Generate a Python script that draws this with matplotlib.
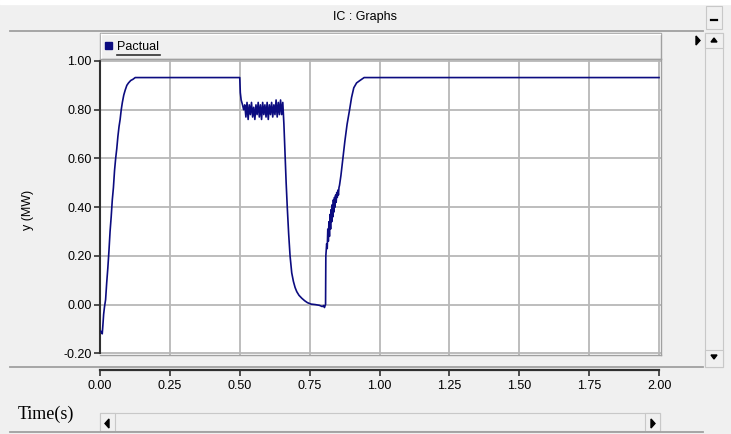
import numpy as np
import matplotlib
matplotlib.use("Agg")
import matplotlib.pyplot as plt
from matplotlib.patches import Rectangle, Polygon

plt.rcParams['font.family'] = ['Liberation Sans', 'DejaVu Sans']

# values (time in s, power in MW)
t_rise = [0.000, 0.004, 0.008, 0.010, 0.013, 0.016, 0.020, 0.024, 0.028, 0.032,
          0.036, 0.040, 0.044, 0.048, 0.052, 0.056, 0.060, 0.064, 0.068, 0.072,
          0.076, 0.080, 0.085, 0.090, 0.096, 0.102, 0.110, 0.118, 0.126, 0.500]
p_rise = [-0.11, -0.11, -0.12, -0.09, -0.04, -0.01, 0.02, 0.09, 0.15, 0.22,
          0.30, 0.36, 0.43, 0.48, 0.55, 0.60, 0.64, 0.69, 0.73, 0.76,
          0.80, 0.83, 0.86, 0.88, 0.90, 0.91, 0.92, 0.925, 0.932, 0.932]

t_osc = [0.502, 0.505, 0.510, 0.514,
         0.518, 0.522, 0.526, 0.530, 0.534, 0.538, 0.542, 0.546, 0.550, 0.554,
         0.558, 0.562, 0.566, 0.570, 0.574, 0.578, 0.582, 0.586, 0.590, 0.594,
         0.598, 0.602, 0.606, 0.610, 0.614, 0.618, 0.622, 0.626, 0.630, 0.634,
         0.638, 0.642, 0.646, 0.650, 0.654]
p_osc = [0.87, 0.84, 0.82, 0.80,
         0.82, 0.77, 0.83, 0.76, 0.82, 0.78, 0.83, 0.77, 0.81, 0.76,
         0.82, 0.78, 0.83, 0.77, 0.82, 0.76, 0.83, 0.78, 0.82, 0.77,
         0.83, 0.76, 0.82, 0.78, 0.83, 0.77, 0.82, 0.78, 0.84, 0.77,
         0.83, 0.78, 0.84, 0.78, 0.83]

t_fall = [0.658, 0.662, 0.666, 0.670, 0.675, 0.680, 0.686, 0.692, 0.698, 0.704,
          0.712, 0.722, 0.732, 0.742, 0.755, 0.770, 0.785, 0.795, 0.800, 0.803, 0.806]
p_fall = [0.74, 0.62, 0.50, 0.40, 0.29, 0.20, 0.13, 0.095, 0.07, 0.053,
          0.038, 0.026, 0.016, 0.008, 0.002, 0.0, -0.003, -0.008, -0.004, -0.012, -0.002]

t_rec = [0.807, 0.808, 0.811, 0.813, 0.815, 0.817, 0.819, 0.821, 0.823, 0.825,
         0.827, 0.829, 0.831, 0.833, 0.835, 0.837, 0.839, 0.841, 0.843, 0.845,
         0.847, 0.849, 0.851, 0.853, 0.855, 0.857, 0.862, 0.869, 0.876, 0.884,
         0.893, 0.900, 0.908, 0.918, 0.930, 0.945, 2.000]
p_rec = [0.0, 0.20, 0.25, 0.23, 0.31, 0.26, 0.34, 0.28, 0.37, 0.31,
         0.39, 0.34, 0.41, 0.36, 0.43, 0.38, 0.44, 0.40, 0.45, 0.42,
         0.46, 0.44, 0.47, 0.45, 0.48, 0.49, 0.53, 0.60, 0.67, 0.74,
         0.80, 0.85, 0.89, 0.91, 0.92, 0.932, 0.932]

x_ticks = [0.00, 0.25, 0.50, 0.75, 1.00, 1.25, 1.50, 1.75, 2.00]
y_ticks = [-0.20, 0.00, 0.20, 0.40, 0.60, 0.80, 1.00]

t = np.concatenate([t_rise, t_osc, t_fall, t_rec])
p = np.concatenate([p_rise, p_osc, p_fall, p_rec])

W, H = 731, 434
GRAY = '#f0f0f0'
EDGE = '#a0a0a0'
NAVY = '#0c0c80'


def box(x0, y0, x1, y1):
    # pixel box -> figure fraction
    return [x0 / W, 1 - y1 / H, (x1 - x0) / W, (y1 - y0) / H]


fig = plt.figure(figsize=(W / 100, H / 100), dpi=100, facecolor=GRAY)

# window chrome drawn in pixel coords
bg = fig.add_axes([0, 0, 1, 1])
bg.set_xlim(0, W)
bg.set_ylim(H, 0)
bg.axis('off')
bg.add_patch(Rectangle((0, 0), W, 4, color='white'))
for yy in (31, 367, 432):
    bg.plot([10, 703], [yy, yy], color=EDGE, lw=1.3)
bg.text(365, 17, 'IC : Graphs', ha='center', va='center', fontsize=9)
bg.add_patch(Rectangle((706, 6), 16, 23, facecolor=GRAY, edgecolor='#c8c8c8', lw=0.8))
bg.plot([711, 717], [20, 20], color='black', lw=1.6)

# legend strip
bg.add_patch(Rectangle((100, 33), 561, 26, facecolor=GRAY, edgecolor=EDGE, lw=1.0))
bg.plot([101, 660], [34, 34], color='white', lw=1.0)
bg.plot([101, 101], [34, 58], color='white', lw=1.0)
bg.add_patch(Rectangle((105, 42), 7, 7, color=NAVY))
bg.text(117, 46.5, 'Pactual', ha='left', va='center', fontsize=9)
bg.plot([117, 160], [55, 55], color='#303030', lw=1.2)
bg.add_patch(Polygon([[696, 36], [696, 45], [700, 40.5]], closed=True, color='black'))

# vertical scrollbar
bg.add_patch(Rectangle((705, 33), 18, 334, facecolor=GRAY, edgecolor='#c8c8c8', lw=0.8))
bg.add_patch(Rectangle((705, 33), 18, 15, facecolor=GRAY, edgecolor='#c8c8c8', lw=0.8))
bg.add_patch(Rectangle((705, 350), 18, 17, facecolor=GRAY, edgecolor='#c8c8c8', lw=0.8))
bg.add_patch(Polygon([[711, 42], [717, 42], [714, 38]], closed=True, color='black'))
bg.add_patch(Polygon([[711, 355], [717, 355], [714, 359]], closed=True, color='black'))

# horizontal scrollbar
bg.add_patch(Rectangle((100, 413), 560, 18, facecolor=GRAY, edgecolor='#c8c8c8', lw=0.8))
bg.add_patch(Rectangle((100, 413), 15, 18, facecolor=GRAY, edgecolor='#c8c8c8', lw=0.8))
bg.add_patch(Rectangle((645, 413), 15, 18, facecolor=GRAY, edgecolor='#c8c8c8', lw=0.8))
bg.add_patch(Polygon([[109, 419], [109, 428], [105, 423.5]], closed=True, color='black'))
bg.add_patch(Polygon([[651, 419], [651, 428], [655, 423.5]], closed=True, color='black'))

bg.text(46, 414, 'Time(s)', ha='center', va='center', fontsize=13,
        family=['Liberation Serif', 'DejaVu Serif'])
bg.text(28, 210, 'y (MW)', ha='center', va='center', rotation=90, fontsize=9)

# main plot area
ax = fig.add_axes(box(100, 59, 661, 355))
ax.set_facecolor('white')
ax.set_xlim(0, (661 - 100) / 279.5)
ax.set_ylim(-0.2 - 1.7 / 243.6, 1.0 + 2 / 243.6)
for v in x_ticks[1:]:
    ax.axvline(v, color='#b8b8b8', lw=1.3, zorder=1)
for v in y_ticks:
    ax.axhline(v, color='#b8b8b8', lw=1.3, zorder=1)
ax.plot(t, p, color=NAVY, lw=1.2, zorder=3)

for s in ('top', 'right', 'bottom'):
    ax.spines[s].set_color(EDGE)
    ax.spines[s].set_linewidth(1.0)
ax.spines['left'].set_color('#303030')
ax.spines['left'].set_linewidth(1.5)
ax.spines['left'].set_bounds(-0.2, 1.0)
ax.set_yticks(y_ticks)
ax.set_yticklabels([f'{v:.2f}' for v in y_ticks])
ax.tick_params(axis='y', direction='out', length=4, width=1.2, color='#303030',
               labelsize=9, pad=2)
ax.set_xticks([])

# detached time axis below the plot
xa = fig.add_axes(box(100, 369, 661, 370))
xa.set_facecolor('none')
xa.set_xlim(0, (661 - 100) / 279.5)
for s in ('top', 'right', 'left'):
    xa.spines[s].set_visible(False)
xa.spines['bottom'].set_color('#303030')
xa.spines['bottom'].set_linewidth(1.6)
xa.spines['bottom'].set_bounds(0, 2.0)
xa.set_yticks([])
xa.set_xticks(x_ticks)
xa.set_xticklabels([f'{v:.2f}' for v in x_ticks])
xa.tick_params(axis='x', direction='out', length=4, width=1.2, color='#303030',
               labelsize=9, pad=3)

fig.savefig('out.png', dpi=100, facecolor=GRAY)
